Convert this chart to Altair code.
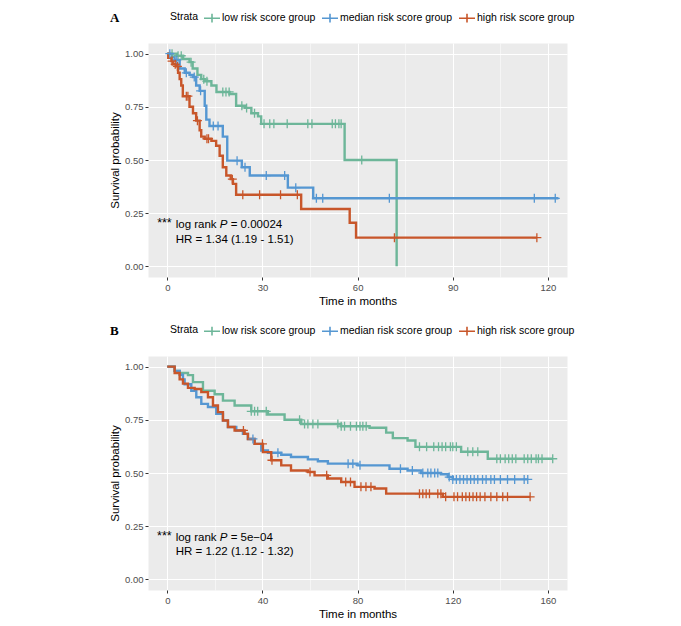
import altair as alt
import pandas as pd

GROUPS = ["low risk score group", "median risk score group", "high risk score group"]
COLORS = ["#6DB699", "#5597D2", "#C8562A"]

# ---------------- Panel A (months) ----------------
A_LOW_T = [0, 3, 5, 7, 8, 9.5, 10.7, 11.8, 13.9, 15.5, 19.6, 21.7, 24.5, 26.5, 28.6, 29.6, 55.9, 72.3]
A_LOW_S = [1.0, 0.99, 0.975, 0.96, 0.93, 0.90, 0.88, 0.87, 0.85, 0.82, 0.81, 0.755, 0.745, 0.72, 0.705, 0.67, 0.50, 0.0]
A_LOW_C = [1.5, 3.4, 4.4, 7.5, 11.5, 12.5, 17.5, 18.5, 19.5, 23.5, 25, 27.5, 30.5, 32.3, 33.6,
           37.8, 44.3, 45.6, 52, 53, 54.1, 54.8, 61.3]

A_MED_T = [0, 1.5, 2.3, 3.9, 5.5, 7, 8.1, 9.1, 10.2, 11.8, 12.3, 13.3, 17.5, 18.9, 23.5, 26, 38, 46, 123.3]
A_MED_S = [1.0, 0.985, 0.97, 0.93, 0.91, 0.90, 0.89, 0.85, 0.825, 0.755, 0.69, 0.66, 0.61, 0.497,
           0.466, 0.427, 0.37, 0.32, 0.32]
A_MED_C = [0.8, 3, 6, 8.5, 10.5, 14.5, 16, 22, 24.5, 31.2, 37, 40.5, 47, 49, 70, 115.7, 122.3]

A_HIGH_T = [0, 0.3, 1.3, 1.8, 2.8, 3.4, 3.9, 4.4, 4.9, 7, 8.1, 9.1, 10.2, 10.7, 11.8, 13.9, 15.4,
            16.5, 17.5, 18.6, 20, 20.7, 21.7, 42.2, 57.5, 59.5, 116.5]
A_HIGH_S = [1.0, 0.98, 0.965, 0.95, 0.94, 0.91, 0.88, 0.85, 0.80, 0.75, 0.72, 0.685, 0.64, 0.61,
            0.60, 0.59, 0.567, 0.52, 0.466, 0.427, 0.41, 0.388, 0.337, 0.27, 0.205, 0.135, 0.135]
A_HIGH_C = [1.5, 2.5, 3.2, 6, 6.5, 9.5, 12.5, 13, 20.5, 23.8, 29.1, 35.7, 41, 71.6, 116.5]

# ---------------- Panel B (months) ----------------
B_LOW_T = [0, 3.1, 5.2, 8.7, 10.8, 15, 19.9, 23.4, 28.3, 35.3, 42.3, 49.3, 56.3, 73, 85, 92, 94.8,
           101, 104.3, 123.5, 134.7, 162]
B_LOW_S = [1.0, 0.98, 0.97, 0.96, 0.927, 0.887, 0.87, 0.84, 0.817, 0.79, 0.775, 0.75, 0.73, 0.72,
           0.713, 0.69, 0.664, 0.653, 0.623, 0.60, 0.567, 0.567]
B_LOW_C = [35.3, 36.7, 38, 41.6, 55.6, 57.7, 59.1, 61.2, 63.3, 71.7, 73.1, 74.5, 77, 79.5, 81,
           82.2, 83.6, 106, 109, 112, 114, 115.5, 117, 119, 120, 121.5, 126.3, 128.4, 130.5,
           138.5, 140, 142, 143.5, 145, 146.5, 150, 151.5, 153, 155, 156, 157.5, 162]

B_MED_T = [0, 3.1, 5.2, 6.6, 7.3, 10.1, 12.2, 14.3, 17.1, 20.6, 23.4, 25.5, 29, 31.8, 33.9, 36.7,
           39.5, 42.3, 47.9, 52, 59.1, 63.3, 67.5, 80, 93.4, 101, 106.7, 115, 117.9, 120, 151.5]
B_MED_S = [1.0, 0.98, 0.962, 0.94, 0.917, 0.887, 0.856, 0.825, 0.81, 0.778, 0.747, 0.716, 0.70,
           0.684, 0.66, 0.637, 0.606, 0.595, 0.586, 0.575, 0.564, 0.555, 0.544, 0.536, 0.52,
           0.512, 0.50, 0.494, 0.481, 0.47, 0.47]
B_MED_C = [36, 46.5, 76, 78, 81, 98, 103, 107.4, 109.5, 110.8, 112.4, 113.7, 118.5, 120, 121.5,
           123, 124.5, 126, 127.5, 129, 130.5, 132.5, 134, 136, 137.5, 140, 143, 146, 150, 151.5]

B_HIGH_T = [0, 3.1, 5.2, 6.6, 8.7, 11.5, 14.3, 17.1, 19.2, 21.3, 23.4, 25.5, 28.3, 32.5, 33.9,
            36.7, 40.2, 43.7, 47.9, 52, 59.1, 61.9, 67.5, 73.1, 78.7, 87.1, 92, 115.8, 152.5]
B_HIGH_S = [1.0, 0.97, 0.94, 0.92, 0.90, 0.895, 0.88, 0.856, 0.817, 0.786, 0.747, 0.716, 0.70,
            0.684, 0.66, 0.637, 0.598, 0.56, 0.536, 0.512, 0.505, 0.489, 0.474, 0.458, 0.435,
            0.427, 0.403, 0.388, 0.388]
B_HIGH_C = [32, 40, 44, 60, 67, 75, 77, 81.4, 83.5, 85.6, 106, 107.4, 108.8, 110.2, 113.7, 115,
            117, 120.5, 122, 124, 125.5, 127, 128.5, 130, 131.5, 133.5, 136, 138.5, 141, 143, 152.5]

# annotation pieces: stars, "log rank", "P", "= value", HR line
A_TEXT = ["***", "log rank", "P", "= 0.00024", "HR = 1.34 (1.19 - 1.51)"]
B_TEXT = ["***", "log rank", "P", "= 5e\u221204", "HR = 1.22 (1.12 - 1.32)"]
KEYS = ["stars", "lr", "p", "eq", "hr"]


def step_df(group, t, s):
    return pd.DataFrame({"group": group, "time": t, "surv": s})


def censor_df(group, t, s, c):
    rows = []
    for ct in c:
        idx = max(i for i, tt in enumerate(t) if tt <= ct)
        rows.append({"group": group, "time": ct, "surv": s[idx]})
    return pd.DataFrame(rows)


def panel(letter, curves, xdom, xvals, major, texts, tx, ty1, ty2, sx, sy, dxs):
    lines = pd.concat([step_df(g, t, s) for g, t, s, c in curves], ignore_index=True)
    cens = pd.concat([censor_df(g, t, s, c) for g, t, s, c in curves], ignore_index=True)
    ann = pd.DataFrame({
        "key": KEYS,
        "x": [sx, tx, tx, tx, tx],
        "y": [sy, ty1, ty1, ty1, ty2],
        "text": texts,
    })
    is_major = f"datum.value % {major} === 0"
    xscale = alt.Scale(domain=xdom, nice=False, zero=False)
    yscale = alt.Scale(domain=[-0.05, 1.05], nice=False, zero=False)
    xaxis = alt.Axis(
        values=xvals, title="Time in months", format="d",
        labelExpr=f"{is_major} ? datum.label : ''",
        gridWidth={"condition": {"test": is_major, "value": 1.1}, "value": 0.5},
        tickSize={"condition": {"test": is_major, "value": 3}, "value": 0},
    )
    ymaj = "abs(datum.value*4 - round(datum.value*4)) < 0.001"
    yaxis = alt.Axis(
        values=[0, 0.125, 0.25, 0.375, 0.5, 0.625, 0.75, 0.875, 1.0],
        title="Survival probability", format=".2f",
        labelExpr=f"{ymaj} ? datum.label : ''",
        gridWidth={"condition": {"test": ymaj, "value": 1.1}, "value": 0.5},
        tickSize={"condition": {"test": ymaj, "value": 3}, "value": 0},
    )
    color = alt.Color(
        "group:N", sort=GROUPS,
        scale=alt.Scale(domain=GROUPS, range=COLORS),
        legend=alt.Legend(
            orient="none", legendX=22, legendY=-34, direction="horizontal",
            title="Strata", titleOrient="left", titleFontWeight="normal",
            titleFontSize=10.5, labelFontSize=10.5, titleColor="black", labelColor="black",
            titleFont="Liberation Sans", labelFont="Liberation Sans",
            symbolType="M-1,0H1M0,-0.55V0.55", symbolSize=256, symbolStrokeWidth=1.6,
            symbolFillColor="transparent", labelOffset=1, columnPadding=2, titlePadding=4,
        ),
    )
    base_line = alt.Chart(lines).mark_line(interpolate="step-after", strokeWidth=2.4).encode(
        x=alt.X("time:Q", scale=xscale, axis=xaxis),
        y=alt.Y("surv:Q", scale=yscale, axis=yaxis),
        color=color,
    )
    pts = alt.Chart(cens).mark_point(
        shape="M-1,0H1M0,-1V1", size=81, strokeWidth=1.3, filled=False, opacity=1
    ).encode(x="time:Q", y="surv:Q", color=alt.Color("group:N", sort=GROUPS))

    def txt(key, dx=0, size=11.5, style="normal"):
        return alt.Chart(ann).transform_filter(f"datum.key === '{key}'").mark_text(
            align="left", baseline="middle", dx=dx, fontSize=size, fontStyle=style,
            font="Liberation Sans", color="black"
        ).encode(x="x:Q", y="y:Q", text="text:N")

    layers = [base_line, pts,
              txt("stars", 0, 12.5), txt("lr", dxs[0]),
              txt("p", dxs[1], 11.5, "italic"), txt("eq", dxs[2]),
              txt("hr")]
    return alt.layer(*layers).properties(
        width=419, height=234,
        title=alt.TitleParams(letter, anchor="start", frame="group", dx=-38, dy=20,
                              font="Liberation Serif", fontWeight="bold", fontSize=13,
                              color="black"),
    )


chart_a = panel(
    "A",
    [(GROUPS[0], A_LOW_T, A_LOW_S, A_LOW_C),
     (GROUPS[1], A_MED_T, A_MED_S, A_MED_C),
     (GROUPS[2], A_HIGH_T, A_HIGH_S, A_HIGH_C)],
    [-6.08, 126], list(range(0, 121, 15)), 30, A_TEXT,
    2.65, 0.1955, 0.125, -3.2, 0.205, [0, 44, 55],
)
chart_b = panel(
    "B",
    [(GROUPS[0], B_LOW_T, B_LOW_S, B_LOW_C),
     (GROUPS[1], B_MED_T, B_MED_S, B_MED_C),
     (GROUPS[2], B_HIGH_T, B_HIGH_S, B_HIGH_C)],
    [-8.1, 168], list(range(0, 161, 20)), 40, B_TEXT,
    3.53, 0.1955, 0.130, -4.3, 0.205, [0, 44, 55],
)

chart = alt.vconcat(chart_a, chart_b, spacing=13).resolve_scale(
    x="independent", color="independent"
).resolve_legend(color="independent").properties(
    padding={"left": 101, "top": 0, "right": 5, "bottom": 5}
).configure_view(fill="#EBEBEB", stroke="transparent").configure_axis(
    domain=False, gridColor="white", tickColor="#333333", labelColor="#4D4D4D",
    labelFont="Liberation Sans", labelFontSize=9.5, titleFont="Liberation Sans",
    titleFontSize=11.5, titleFontWeight="normal", titleColor="black",
    labelPadding=2, titlePadding=4,
)

chart.save("out.html", embed_options={"renderer": "svg", "actions": False})
